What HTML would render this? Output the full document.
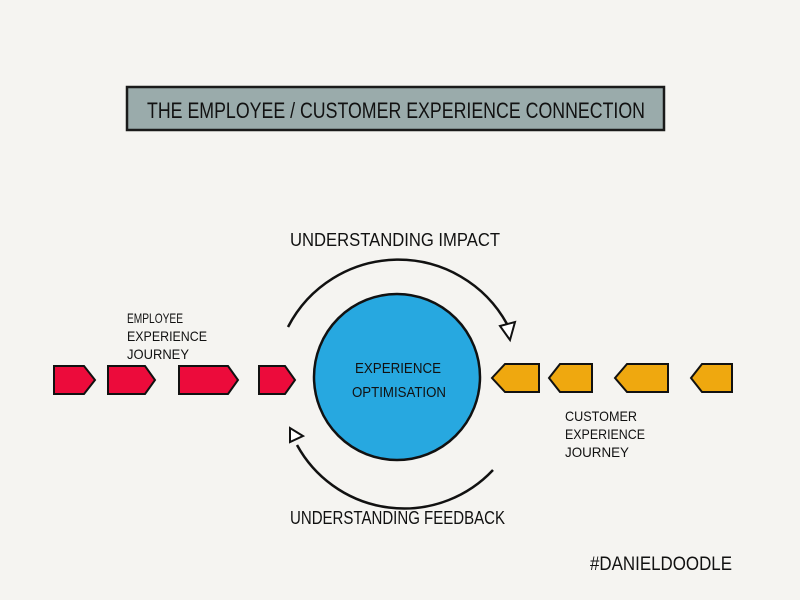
<!DOCTYPE html>
<html><head><meta charset="utf-8"><style>
html,body{margin:0;padding:0;background:#f5f4f1;}
svg{display:block}
text{font-family:"Liberation Sans Narrow","Liberation Sans",sans-serif;fill:#111;}
</style></head><body>
<svg width="800" height="600" viewBox="0 0 800 600" xmlns="http://www.w3.org/2000/svg">
<rect width="800" height="600" fill="#f5f4f1"/>
<rect x="127" y="87" width="537" height="43" fill="#9aabab" stroke="#1a1a1a" stroke-width="2.5"/>
<text x="147" y="118" font-size="22" textLength="498" lengthAdjust="spacingAndGlyphs">THE  EMPLOYEE / CUSTOMER  EXPERIENCE CONNECTION</text>

<text x="290" y="246" font-size="18" textLength="210" lengthAdjust="spacingAndGlyphs">UNDERSTANDING  IMPACT</text>
<text x="290" y="524" font-size="18" textLength="215" lengthAdjust="spacingAndGlyphs">UNDERSTANDING FEEDBACK</text>
<text x="590" y="570" font-size="19" textLength="142" lengthAdjust="spacingAndGlyphs">#DANIELDOODLE</text>

<g font-size="14">
<text x="127" y="323" textLength="56" lengthAdjust="spacingAndGlyphs">EMPLOYEE</text>
<text x="127" y="341" textLength="80" lengthAdjust="spacingAndGlyphs">EXPERIENCE</text>
<text x="127" y="359" textLength="62" lengthAdjust="spacingAndGlyphs">JOURNEY</text>
<text x="565" y="421" textLength="72" lengthAdjust="spacingAndGlyphs">CUSTOMER</text>
<text x="565" y="439" textLength="80" lengthAdjust="spacingAndGlyphs">EXPERIENCE</text>
<text x="565" y="457" textLength="64" lengthAdjust="spacingAndGlyphs">JOURNEY</text>
</g>

<!-- arcs -->
<path d="M288,327 A124,124 0 0 1 507,324" fill="none" stroke="#111" stroke-width="2.5"/>
<polygon points="500,326 515,322 510,340" fill="#fff" stroke="#111" stroke-width="2"/>
<path d="M297,445 A122,122 0 0 0 493,470" fill="none" stroke="#111" stroke-width="2.5"/>
<polygon points="290,442 290,428 303,436" fill="#fff" stroke="#111" stroke-width="2"/>

<!-- circle -->
<ellipse cx="397" cy="377" rx="83" ry="83" fill="#27a8e0" stroke="#111" stroke-width="2.5"/>
<text x="355" y="373" font-size="15" textLength="86" lengthAdjust="spacingAndGlyphs">EXPERIENCE</text>
<text x="352" y="397" font-size="15" textLength="94" lengthAdjust="spacingAndGlyphs">OPTIMISATION</text>

<!-- red chevrons -->
<g fill="#ec0b3b" stroke="#111" stroke-width="2">
<polygon points="54,366 84,366 95,380 84,394 54,394"/>
<polygon points="108,366 145,366 155,380 145,394 108,394"/>
<polygon points="179,366 228,366 238,380 228,394 179,394"/>
<polygon points="259,366 285,366 295,380 285,394 259,394"/>
</g>
<!-- orange chevrons -->
<g fill="#efa80f" stroke="#111" stroke-width="2">
<polygon points="539,364 505,364 492,378 505,392 539,392"/>
<polygon points="592,364 560,364 549,378 560,392 592,392"/>
<polygon points="668,364 627,364 615,378 627,392 668,392"/>
<polygon points="732,364 702,364 691,378 702,392 732,392"/>
</g>
</svg>
</body></html>
